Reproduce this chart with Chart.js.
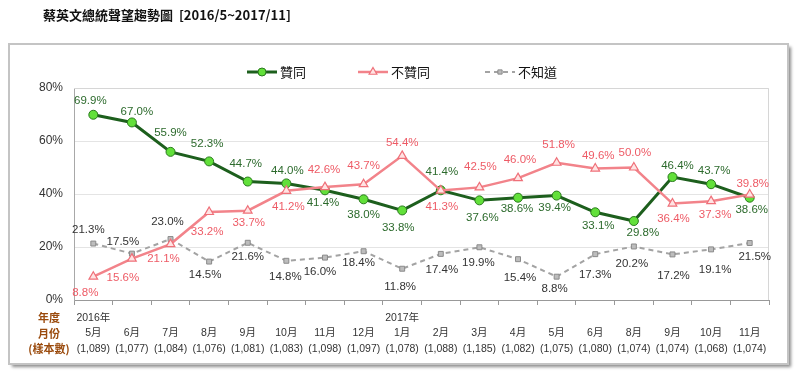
<!DOCTYPE html>
<html>
<head>
<meta charset="utf-8">
<script src="https://cdn.jsdelivr.net/npm/chart.js@4/dist/chart.umd.min.js"></script>
<style>
  html, body { margin: 0; padding: 0; background: #fff; }
</style>
</head>
<body>
<canvas id="graphique" width="800" height="379"></canvas>
<script>
// Données
const annees = ["2016年", "", "", "", "", "", "", "", "2017年", "", "", "", "", "", "", "", "", ""]
const mois = ["5月", "6月", "7月", "8月", "9月", "10月", "11月", "12月", "1月", "2月", "3月", "4月", "5月", "6月", "8月", "9月", "10月", "11月"]
const echantillons = ["1,089", "1,077", "1,084", "1,076", "1,081", "1,083", "1,098", "1,097", "1,078", "1,088", "1,185", "1,082", "1,075", "1,080", "1,074", "1,074", "1,068", "1,074"]
const approuve = [69.9, 67.0, 55.9, 52.3, 44.7, 44.0, 41.4, 38.0, 33.8, 41.4, 37.6, 38.6, 39.4, 33.1, 29.8, 46.4, 43.7, 38.6]
const desapprouve = [8.8, 15.6, 21.1, 33.2, 33.7, 41.2, 42.6, 43.7, 54.4, 41.3, 42.5, 46.0, 51.8, 49.6, 50.0, 36.4, 37.3, 39.8]
const sansAvis = [21.3, 17.5, 23.0, 14.5, 21.6, 14.8, 16.0, 18.4, 11.8, 17.4, 19.9, 15.4, 8.8, 17.3, 20.2, 17.2, 19.1, 21.5]
const ticksY = [0, 20, 40, 60, 80]

// décalage des étiquettes par rapport au point [dx, dy]
const decalVert = [[-3,-14],[5,-11],[0,-19],[-2,-18],[-2,-18],[1,-13],[-2,13],[0,16],[-4,17],[1,-18],[3,17],[-1,11],[-2,12],[3,14],[9,12],[5,-11],[3,-13],[2,12]]
const decalRose = [[-8,16],[-9,19],[-7,15],[-2,20],[1,12],[2,16],[-1,-17],[0,-18],[0,-13],[1,16],[1,-21],[2,-18],[2,-18],[3,-13],[1,-15],[1,15],[4,14],[3,-11]]
const decalGris = [[-5,-14],[-9,-12],[-3,-17],[-4,13],[0,14],[-1,16],[-5,14],[-5,12],[-2,18],[1,16],[-1,16],[2,19],[-2,12],[0,21],[-2,17],[1,21],[4,20],[5,14]]

const labels = mois.map((m, i) => [annees[i], m, "(" + echantillons[i] + ")"])
const police = '"Liberation Sans", "Noto Sans CJK TC", sans-serif'
const policeCJK = '"Noto Sans CJK TC", "Liberation Sans", sans-serif'

// Cadre, titre, légende et étiquettes
const decor = {
    id: "decor",
    beforeDraw(chart) {
        const ctx = chart.ctx
        ctx.save()
        ctx.fillStyle = "#fff"
        ctx.fillRect(0, 0, chart.width, chart.height)
        ctx.shadowColor = "rgba(0,0,0,0.45)"
        ctx.shadowOffsetX = 3
        ctx.shadowOffsetY = 3
        ctx.shadowBlur = 3
        ctx.fillRect(9, 44, 779, 320)
        ctx.restore()
        ctx.save()
        ctx.strokeStyle = "#c4c4c4"
        ctx.lineWidth = 2
        ctx.strokeRect(9, 44, 779, 320)
        ctx.fillStyle = "#111"
        ctx.font = "bold 13px " + policeCJK
        ctx.textBaseline = "middle"
        ctx.fillText("蔡英文總統聲望趨勢圖  [2016/5~2017/11]", 43, 15)
        ctx.restore()
    },
    beforeDatasetsDraw(chart) {
        const ctx = chart.ctx
        const a = chart.chartArea
        ctx.save()
        ctx.strokeStyle = "#d6d6d6"
        ctx.lineWidth = 1
        ctx.beginPath()
        ctx.moveTo(a.left, a.top + 0.5)
        ctx.lineTo(a.right - 0.5, a.top + 0.5)
        ctx.lineTo(a.right - 0.5, a.bottom)
        ctx.stroke()
        ctx.restore()
    },
    afterDatasetsDraw(chart) {
        const ctx = chart.ctx
        ctx.save()
        ctx.font = "11.5px " + police
        ctx.textAlign = "center"
        ctx.textBaseline = "middle"
        chart.data.datasets.forEach((ds, d) => {
            const meta = chart.getDatasetMeta(d)
            ctx.fillStyle = ds.couleurTexte
            meta.data.forEach((pt, i) => {
                const [dx, dy] = ds.decalages[i]
                ctx.fillText(ds.data[i].toFixed(1) + "%", pt.x + dx, pt.y + dy)
            })
        })
        // légende
        const departs = [247, 358, 485]
        ctx.font = "13px " + policeCJK
        ctx.textAlign = "left"
        chart.data.datasets.forEach((ds, d) => {
            const x0 = departs[d]
            const y = 72
            ctx.strokeStyle = ds.borderColor
            ctx.lineWidth = ds.borderWidth
            ctx.setLineDash(ds.borderDash || [])
            ctx.beginPath()
            ctx.moveTo(x0, y)
            ctx.lineTo(x0 + 30, y)
            ctx.stroke()
            ctx.setLineDash([])
            ctx.fillStyle = ds.pointBackgroundColor
            ctx.strokeStyle = ds.pointBorderColor
            ctx.lineWidth = ds.pointBorderWidth
            Chart.helpers.drawPoint(ctx, {
                pointStyle: ds.pointStyle, radius: ds.pointRadius - 0.5,
                rotation: 0, borderWidth: ds.pointBorderWidth
            }, x0 + 15, y)
            ctx.fillStyle = "#111"
            ctx.fillText(ds.label, x0 + 33, y)
        })
        // titres de l'axe des x
        ctx.fillStyle = "#9a4a0c"
        ctx.font = "bold 11px " + policeCJK
        ctx.textAlign = "center"
        ctx.fillText("年度", 49, 318)
        ctx.fillText("月份", 49, 334)
        ctx.fillText("(樣本數)", 49, 349)
        ctx.restore()
    }
}

const data = {
    labels: labels,
    datasets: [{
        label: "贊同",
        data: approuve,
        borderColor: "#1d5f1d",
        borderWidth: 3,
        pointStyle: "circle",
        pointRadius: 4.5,
        pointBackgroundColor: "#62e03a",
        pointBorderColor: "#2a7a1e",
        pointBorderWidth: 1,
        couleurTexte: "#2c6a2c",
        decalages: decalVert,
        order: 2
    }, {
        label: "不贊同",
        data: desapprouve,
        borderColor: "#f2838a",
        borderWidth: 2.5,
        pointStyle: "triangle",
        pointRadius: 5,
        pointBackgroundColor: "#ffe3e3",
        pointBorderColor: "#ef7079",
        pointBorderWidth: 1.2,
        couleurTexte: "#ee5b66",
        decalages: decalRose,
        order: 1
    }, {
        label: "不知道",
        data: sansAvis,
        borderColor: "#a3a3a3",
        borderWidth: 2,
        borderDash: [5, 4],
        pointStyle: "rect",
        pointRadius: 3.5,
        pointBackgroundColor: "#bdbdbd",
        pointBorderColor: "#8a8a8a",
        pointBorderWidth: 1,
        couleurTexte: "#333",
        decalages: decalGris,
        order: 3
    }]
}

const config = {
    type: "line",
    data: data,
    options: {
        responsive: false,
        animation: false,
        layout: { padding: { left: 10, right: 31, top: 88, bottom: 9 } },
        plugins: {
            legend: { display: false },
            tooltip: { enabled: false }
        },
        scales: {
            x: {
                offset: true,
                afterFit: scale => { scale.height = 70 },
                grid: { drawOnChartArea: false, drawTicks: true, tickLength: 5, color: "#999", offset: true },
                border: { color: "#999" },
                ticks: {
                    autoSkip: false, maxRotation: 0, padding: 5, color: "#333",
                    font: { size: 10.5, family: police, lineHeight: 1.48 }
                }
            },
            y: {
                min: 0,
                max: 80,
                afterFit: scale => { scale.width = 64 },
                afterBuildTicks: scale => { scale.ticks = ticksY.map(v => ({ value: v })) },
                grid: { color: "#e4e4e4", drawTicks: false },
                border: { color: "#a8a8a8" },
                ticks: {
                    padding: 11, color: "#333",
                    font: { size: 12, family: police },
                    callback: v => v + "%"
                }
            }
        }
    },
    plugins: [decor]
}

const graphique = new Chart(document.querySelector("#graphique"), config)
</script>
</body>
</html>
